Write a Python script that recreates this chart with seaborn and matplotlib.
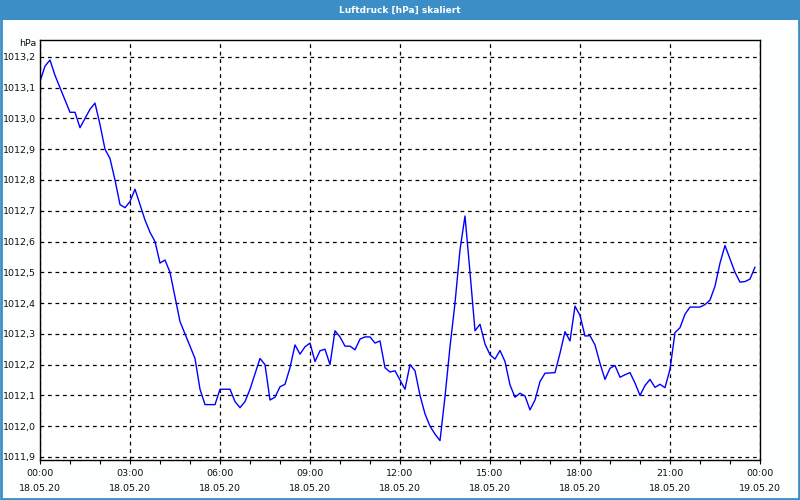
import numpy as np
import pandas as pd
import matplotlib
matplotlib.use("Agg")
import matplotlib.pyplot as plt
import matplotlib.dates as mdates
from matplotlib.patches import Rectangle
from matplotlib.ticker import FuncFormatter, MultipleLocator
import seaborn as sns

title = "Luftdruck [hPa] skaliert"
unit_label = "hPa"
start_time = "2020-05-18 00:00"
end_time = "2020-05-19 00:00"
sample_freq = "10min"

pressure = [
    1013.12, 1013.17, 1013.19, 1013.14, 1013.10, 1013.06, 1013.02, 1013.02,
    1012.97, 1013.00, 1013.03, 1013.05, 1012.98, 1012.90, 1012.87, 1012.80,
    1012.72, 1012.71, 1012.73, 1012.77, 1012.72, 1012.67, 1012.63, 1012.60,
    1012.53, 1012.54, 1012.50, 1012.42, 1012.34, 1012.30, 1012.26, 1012.22,
    1012.12, 1012.07, 1012.07, 1012.07, 1012.12, 1012.12, 1012.12, 1012.08,
    1012.06, 1012.08, 1012.12, 1012.17, 1012.22, 1012.20, 1012.085, 1012.094,
    1012.128, 1012.136, 1012.19, 1012.264, 1012.234, 1012.258, 1012.27, 1012.21,
    1012.245, 1012.25, 1012.20, 1012.31, 1012.29, 1012.26, 1012.26, 1012.248,
    1012.283, 1012.29, 1012.29, 1012.27, 1012.277, 1012.19, 1012.176, 1012.18,
    1012.15, 1012.12, 1012.20, 1012.18, 1012.10, 1012.04, 1012.00, 1011.974,
    1011.953, 1012.096, 1012.258, 1012.40, 1012.573, 1012.683, 1012.50, 1012.31,
    1012.331, 1012.267, 1012.232, 1012.218, 1012.246, 1012.21, 1012.134, 1012.094,
    1012.107, 1012.098, 1012.053, 1012.085, 1012.145, 1012.172, 1012.173, 1012.174,
    1012.237, 1012.307, 1012.277, 1012.39, 1012.36, 1012.293, 1012.294, 1012.264,
    1012.204, 1012.152, 1012.188, 1012.197, 1012.159, 1012.167, 1012.174, 1012.14,
    1012.10, 1012.132, 1012.152, 1012.126, 1012.136, 1012.125, 1012.185, 1012.304,
    1012.32, 1012.364, 1012.387, 1012.387, 1012.387, 1012.395, 1012.41, 1012.455,
    1012.53, 1012.587, 1012.543, 1012.50, 1012.468, 1012.47, 1012.478, 1012.517,
]

times = pd.date_range(start_time, periods=len(pressure), freq=sample_freq)
df = pd.DataFrame({"time": times, "pressure": pressure})

sns.set_style("white")
plt.rcParams["font.family"] = ["DejaVu Sans"]

W, H = 800, 500
fig = plt.figure(figsize=(8, 5), dpi=100, facecolor="#fdfefe")
ax = fig.add_axes([40 / W, 1 - 460 / H, 720 / W, 420 / H])
ax.set_facecolor("white")

sns.lineplot(data=df, x="time", y="pressure", ax=ax, color="#0000ff", linewidth=1.0)

ax.set_xlim(pd.Timestamp(start_time), pd.Timestamp(end_time))
ax.set_ylim(1011.89, 1013.255)

ax.xaxis.set_major_locator(mdates.HourLocator(byhour=range(0, 24, 3)))
ax.xaxis.set_minor_locator(mdates.HourLocator(interval=1))
ax.xaxis.set_major_formatter(mdates.DateFormatter("%H:%M\n%d.%m.%y"))
ax.yaxis.set_major_locator(MultipleLocator(0.1))
ax.yaxis.set_major_formatter(FuncFormatter(lambda v, p: f"{v:.1f}".replace(".", ",")))

ax.grid(True, which="major", color="black", linestyle=(0, (3, 3)), linewidth=0.9)
ax.set_xlabel("")
ax.set_ylabel("")

ax.tick_params(axis="x", which="both", direction="out", length=3, width=0.8,
               color="black", bottom=True, labelsize=6.8, pad=3.5, labelcolor="#111111")
ax.tick_params(axis="y", which="both", length=0, pad=3, labelsize=6.8, labelcolor="#111111")
for lbl in ax.get_xticklabels():
    lbl.set_linespacing(1.85)

for s in ax.spines.values():
    s.set_color("black")
    s.set_linewidth(1.0)

fig.text(36 / W, 1 - 44 / H, unit_label, ha="right", va="center", fontsize=6.8, color="#111111")

# window frame and title bar
blue = "#3b8fc6"
fig.patches.append(Rectangle((0, 1 - 20 / H), 1, 20 / H, transform=fig.transFigure,
                             facecolor=blue, edgecolor="none", zorder=0))
fig.patches.append(Rectangle((1 / W, 1 / H), 1 - 2 / W, 1 - 2 / H, transform=fig.transFigure,
                             facecolor="none", edgecolor=blue, linewidth=2, zorder=0))
fig.text(0.5, 1 - 10 / H, title, ha="center", va="center", color="white",
         fontsize=6.5, fontweight="bold")

fig.savefig("out.png", dpi=100, facecolor=fig.get_facecolor())
